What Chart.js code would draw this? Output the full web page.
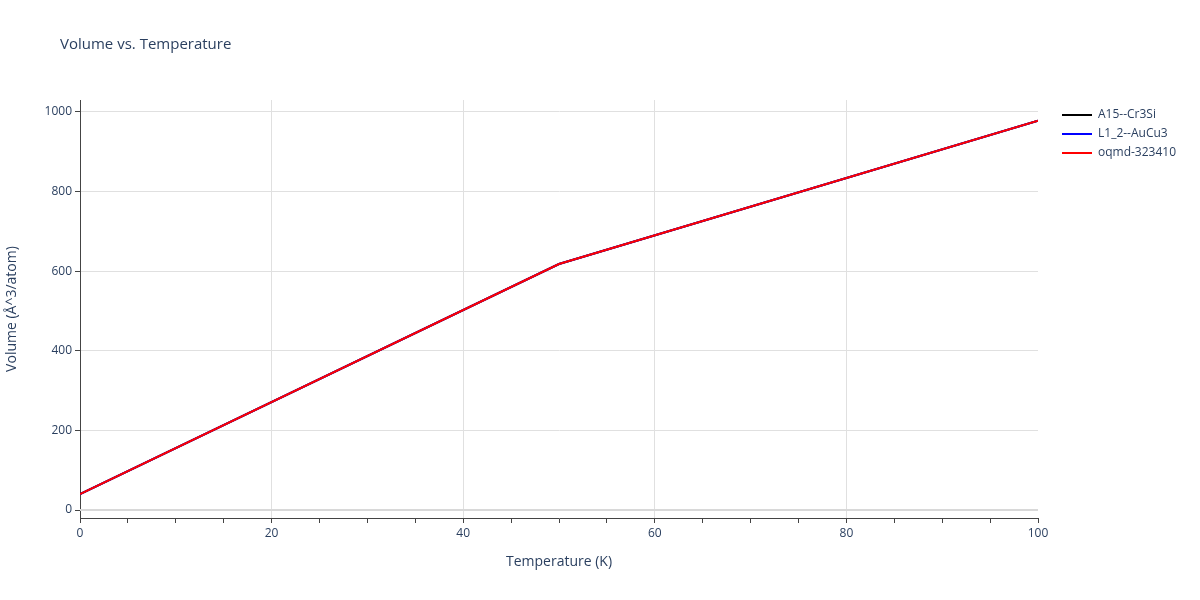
<!DOCTYPE html>
<html>
<head>
<meta charset="utf-8">
<script src="https://cdn.jsdelivr.net/npm/chart.js@4/dist/chart.umd.min.js"></script>
<style>
  html, body { margin: 0; padding: 0; background: #fff; }
  #wrap { width: 1200px; height: 600px; }
</style>
</head>
<body>
<div id="wrap"><canvas id="chart" width="1200" height="600"></canvas></div>
<script>
const seriesNames = ['A15--Cr3Si', 'L1_2--AuCu3', 'oqmd-323410'];
const seriesColors = ['#000000', '#0000ff', '#ff0000'];
const temperatures = [0, 50, 100];
const volA15 = [40, 618, 978];
const volL12 = [40, 618, 978];
const volOqmd = [40, 618, 978];
const seriesValues = [volA15, volL12, volOqmd];

const font = { family: '"Open Sans", Verdana, Arial, sans-serif', size: 12 };
const textColor = '#2a3f5f';

// Plotly-ish title and legend drawn by hand
const decor = {
  id: 'decor',
  afterDraw(chart) {
    const ctx = chart.ctx;
    ctx.save();
    ctx.fillStyle = textColor;
    ctx.font = '15px "Open Sans", Verdana, Arial, sans-serif';
    ctx.textBaseline = 'middle';
    ctx.fillText('Volume vs. Temperature', 60, 45);
    ctx.font = '12px "Open Sans", Verdana, Arial, sans-serif';
    seriesNames.forEach((name, i) => {
      const y = 115 + i * 19;
      ctx.strokeStyle = seriesColors[i];
      ctx.lineWidth = 2;
      ctx.beginPath();
      ctx.moveTo(1062, y);
      ctx.lineTo(1092, y);
      ctx.stroke();
      ctx.fillText(name, 1098, y);
    });
    ctx.restore();
  },
  beforeDatasetsDraw(chart) {
    const ctx = chart.ctx;
    const ys = chart.scales.y, a = chart.chartArea;
    ctx.save();
    ctx.strokeStyle = '#d8d8d8';
    ctx.lineWidth = 2;
    ctx.beginPath();
    ctx.moveTo(a.left, ys.getPixelForValue(0));
    ctx.lineTo(a.right, ys.getPixelForValue(0));
    ctx.stroke();
    ctx.restore();
  }
};

new Chart(document.getElementById('chart').getContext('2d'), {
  type: 'line',
  data: {
    datasets: seriesNames.map((name, i) => ({
      label: name,
      data: temperatures.map((t, j) => ({ x: t, y: seriesValues[i][j] })),
      borderColor: seriesColors[i],
      borderWidth: 2,
      pointRadius: 0,
      tension: 0,
      order: seriesNames.length - i
    }))
  },
  options: {
    responsive: false,
    animation: false,
    layout: { padding: { top: 100, right: 162, left: 0, bottom: 26 } },
    plugins: { legend: { display: false }, tooltip: { enabled: false } },
    scales: {
      x: {
        type: 'linear',
        min: 0, max: 100,
        afterFit(s) { s.height = 56; },
        ticks: {
          stepSize: 5, autoSkip: false, color: textColor, font,
          callback: v => (v % 20 === 0 ? v : '')
        },
        grid: {
          color: c => (c.tick && c.tick.value % 20 === 0 && c.tick.value > 0 && c.tick.value < 100 ? '#e0e0e0' : 'rgba(0,0,0,0)'),
          tickColor: '#444', tickLength: 5, drawTicks: true
        },
        border: { display: true, color: '#444' },
        title: { display: true, text: 'Temperature (K)', color: textColor, font: { family: font.family, size: 14 } }
      },
      y: {
        min: -20, max: 1030,
        afterFit(s) { s.width = 80; },
        ticks: {
          stepSize: 200, color: textColor, font,
          callback: v => (v % 200 === 0 ? v : '')
        },
        afterBuildTicks(s) { s.ticks = [0, 200, 400, 600, 800, 1000].map(v => ({ value: v })); },
        grid: { color: '#e0e0e0', tickColor: '#444', tickLength: 5 },
        border: { display: true, color: '#444' },
        title: { display: true, text: 'Volume (Å^3/atom)', color: textColor, font: { family: font.family, size: 14 } }
      }
    }
  },
  plugins: [decor]
});
</script>
</body>
</html>
